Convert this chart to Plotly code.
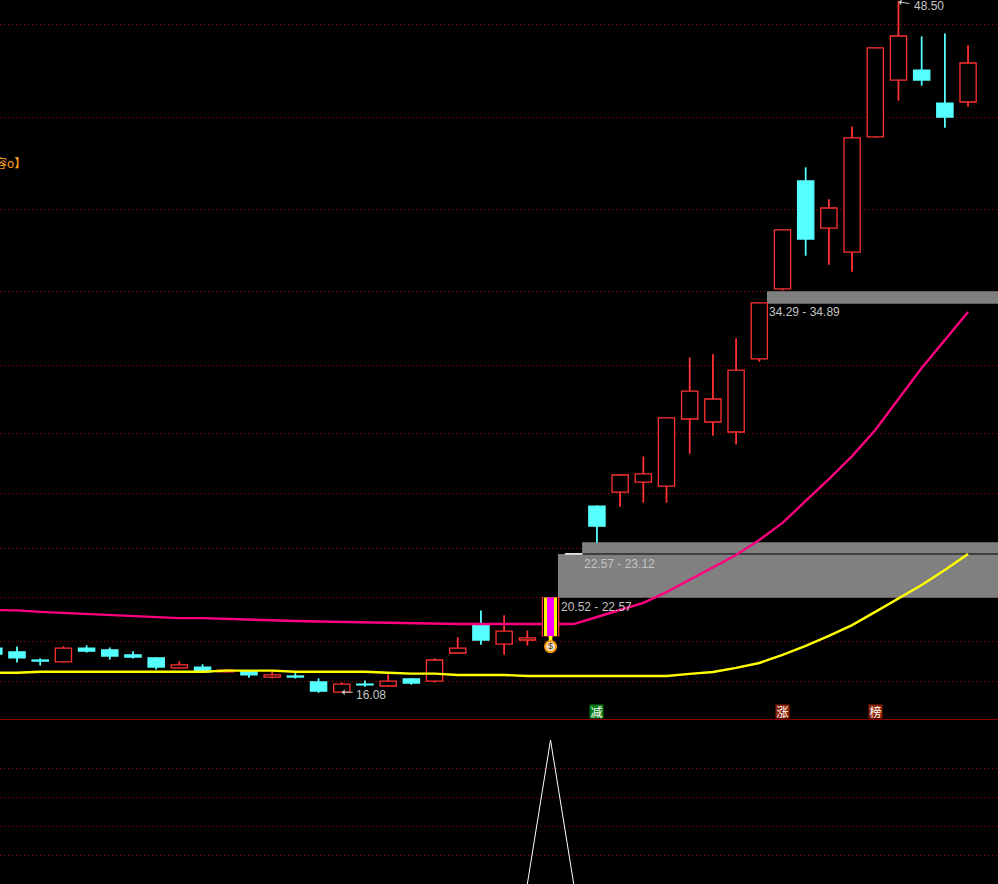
import plotly.graph_objects as go

# Candle slots 0..42, prices
idx = list(range(43))
# slot 24 (highlight candle) and slot 25 (flat white candle) are drawn separately
opens = [18.15,17.97,17.59,17.50,18.15,18.06,17.83,17.69,17.22,17.26,17.03,17.08,16.79,16.84,16.56,16.08,16.46,16.37,16.70,16.60,17.92,19.23,18.34,18.53,None,None,
         24.82,25.48,25.95,25.76,28.91,28.77,28.30,31.73,35.02,40.09,37.88,36.75,42.16,44.83,45.30,43.75,43.80]
highs = [18.20,18.20,17.64,18.20,18.25,18.15,17.97,17.69,17.50,17.36,17.12,17.08,17.03,16.98,16.70,16.51,16.60,16.89,16.70,17.64,18.63,19.89,19.66,18.95,None,None,
         24.82,26.28,27.12,28.96,31.77,31.92,32.67,34.36,37.79,40.70,39.20,42.62,46.34,48.50,46.85,46.99,46.43]
lows = [17.83,17.50,17.36,17.50,17.97,17.64,17.69,17.17,17.22,17.03,17.03,16.79,16.75,16.75,16.08,16.08,16.37,16.37,16.46,16.56,17.92,18.34,17.87,18.30,None,None,
        23.13,24.82,25.01,25.01,27.31,28.16,27.74,31.63,34.97,36.61,36.19,35.86,42.16,43.89,44.60,42.62,43.61]
closes = [17.87,17.69,17.54,18.15,18.01,17.78,17.73,17.26,17.36,17.03,17.12,16.89,16.89,16.79,16.13,16.46,16.42,16.60,16.51,17.59,18.15,18.53,18.95,18.63,None,None,
          23.88,26.28,26.33,28.96,30.22,29.85,31.21,34.36,37.79,37.36,38.82,42.11,46.34,46.90,44.83,43.09,45.63]

signal_slot = [24]
signal_bottom = [18.72]
signal_top = [20.52]
signal_stem = [18.48]
bag_price = [18.22]
flat_slot = [25]
flat_price = [22.57]
flat_height = [0.01]

pink_ma = [19.94,19.92,19.85,19.80,19.75,19.71,19.66,19.61,19.56,19.56,19.52,19.47,19.45,19.42,19.40,19.38,19.35,19.33,19.33,19.28,19.28,19.28,19.28,19.28,19.28,19.28,
           19.61,19.94,20.27,20.78,21.35,21.91,22.52,23.23,24.03,25.06,26.09,27.17,28.39,29.85,31.31,32.62,33.94]
yellow_ma = [16.99,16.99,17.04,17.04,17.04,17.04,17.04,17.04,17.04,17.04,17.09,17.09,17.09,17.04,17.04,17.04,17.04,16.99,16.95,16.95,16.89,16.89,16.89,16.84,16.84,16.84,
             16.84,16.84,16.84,16.84,16.94,17.03,17.22,17.45,17.83,18.25,18.72,19.23,19.85,20.46,21.11,21.82,22.57]

zone_low = [20.52, 22.57, 34.32]
zone_high = [22.57, 23.12, 34.91]
zone_start = [24.32, 25.36, 33.33]
zone_labels = ["20.52 - 22.57", "22.57 - 23.12", "34.29 - 34.89"]
zone_label_x = [24.41, 25.40, 33.38]
zone_label_y = [20.08, 22.10, 33.94]

price_grid = [47.42, 43.09, 38.77, 34.88, 31.40, 28.25, 25.39, 22.85, 20.55, 18.48, 16.60]
osc_grid = [20, 40, 60, 80]
osc_slots = [23, 24, 25]
osc_values = [0, 99.3, 0]

badge_slots = [26, 34, 38]
badge_text = ["减", "涨", "榜"]
badge_colors = ["#0a7d14", "#8c2208", "#8c2208"]
badge_price = 15.17

X_RANGE = [0.267, 43.29]
Y_RANGE = [14.82, 48.59]
RED = "#ff3232"
CYAN = "#55ffff"
GRID = "#a00000"
TXT = "#c4c4c4"
FONT = "Liberation Sans"
BODY_W = 0.7
WICK_W = 0.02
EDGE = 1.3

fig = go.Figure()
valid = [i for i in idx if opens[i] is not None]
up = [i for i in valid if closes[i] >= opens[i]]
down = [i for i in valid if closes[i] < opens[i]]


def add_bar(slots, base, height, width, fill, line):
    fig.add_trace(go.Bar(x=slots, y=height, base=base, width=width, marker=dict(color=fill, line=dict(color=line, width=EDGE)),
                         hoverinfo="skip", showlegend=False))


for group, colour, fill in ((up, RED, "#000000"), (down, CYAN, CYAN)):
    add_bar(group, [lows[i] for i in group], [highs[i] - lows[i] for i in group], WICK_W, colour, colour)
for group, colour, fill in ((up, RED, "#000000"), (down, CYAN, CYAN)):
    add_bar(group, [min(opens[i], closes[i]) for i in group], [abs(closes[i] - opens[i]) for i in group], BODY_W, fill, colour)
# flat candle
add_bar(flat_slot, flat_price, flat_height, BODY_W, "#ffffff", "#ffffff")
# highlight candle outline, stem and stripes
h = [signal_top[0] - signal_bottom[0]]
add_bar(signal_slot, signal_bottom, h, BODY_W, "#000000", RED)
add_bar(signal_slot, signal_stem, [signal_bottom[0] - signal_stem[0]], 0.1, "#ffff00", "#ffff00")

fig.add_trace(go.Scatter(x=idx, y=pink_ma, mode="lines", line=dict(color="#ff0080", width=2.4), hoverinfo="skip", showlegend=False))
fig.add_trace(go.Scatter(x=idx, y=yellow_ma, mode="lines", line=dict(color="#ffff00", width=2.4), hoverinfo="skip", showlegend=False))

s = signal_slot[0]
fig.add_trace(go.Scatter(x=[s, s], y=[signal_bottom[0], signal_top[0]], mode="lines",
                         line=dict(color="#000000", width=15), hoverinfo="skip", showlegend=False))
fig.add_trace(go.Scatter(x=[s, s], y=[signal_bottom[0], signal_top[0]], mode="lines",
                         line=dict(color="#ffff00", width=13), hoverinfo="skip", showlegend=False))
fig.add_trace(go.Scatter(x=[s, s], y=[signal_bottom[0], signal_top[0]], mode="lines",
                         line=dict(color="#ff00ff", width=7), hoverinfo="skip", showlegend=False))
fig.add_trace(go.Scatter(x=signal_slot, y=bag_price, mode="markers+text", text=["$"], textposition="middle center",
                         textfont=dict(color="#5a3a20", size=9, family=FONT),
                         marker=dict(size=11, color="#f4e8d0", line=dict(color="#ff9c00", width=2)),
                         hoverinfo="skip", showlegend=False))
# lower pane
fig.add_trace(go.Scatter(x=osc_slots, y=osc_values, mode="lines", line=dict(color="#ffffff", width=1),
                         xaxis="x2", yaxis="y2", hoverinfo="skip", showlegend=False))

shapes = []
for lo, hi, st in zip(zone_low, zone_high, zone_start):
    shapes.append(dict(type="rect", xref="x", yref="y", x0=st, x1=X_RANGE[1], y0=lo, y1=hi,
                       fillcolor="#808080", line=dict(width=0), layer="between"))
shapes.append(dict(type="line", xref="x", yref="y", x0=zone_start[1], x1=X_RANGE[1], y0=zone_low[1], y1=zone_low[1],
                   line=dict(color="#000000", width=1), layer="between"))

ann = []
for t, x, y in zip(zone_labels, zone_label_x, zone_label_y):
    ann.append(dict(x=x, y=y, xref="x", yref="y", text=t, showarrow=False, xanchor="left", yanchor="middle",
                    font=dict(color=TXT, size=12, family=FONT), borderpad=0))
ann.append(dict(x=15.57, y=15.97, xref="x", yref="y", text="16.08", showarrow=False, xanchor="left", yanchor="middle",
                font=dict(color=TXT, size=12, family=FONT), borderpad=0))
ann.append(dict(x=39.63, y=48.30, xref="x", yref="y", text="48.50", showarrow=False, xanchor="left", yanchor="middle",
                font=dict(color=TXT, size=12, family=FONT), borderpad=0))
ann.append(dict(x=15.0, y=16.08, xref="x", yref="y", text=" ", ax=14, ay=0, axref="pixel", ayref="pixel", showarrow=True,
                arrowhead=1, arrowsize=1, arrowwidth=1, arrowcolor=TXT, standoff=0))
ann.append(dict(x=39.0, y=48.50, xref="x", yref="y", text=" ", ax=14, ay=2, axref="pixel", ayref="pixel", showarrow=True,
                arrowhead=1, arrowsize=1, arrowwidth=1, arrowcolor=TXT, standoff=0))
for sl, t, c in zip(badge_slots, badge_text, badge_colors):
    ann.append(dict(x=sl, y=badge_price, xref="x", yref="y", text=t, showarrow=False, bgcolor=c, width=13, height=13,
                    borderpad=0, font=dict(color="#ffffff", size=12, family="Noto Sans CJK SC")))
ann.append(dict(x=1.43, y=40.98, xref="x", yref="y", text="容o<b>】</b>", showarrow=False, xanchor="right", yanchor="middle",
                font=dict(color="#ff9c1a", size=12, family="Noto Sans CJK SC"), borderpad=0))

axis_common = dict(showticklabels=False, ticks="", zeroline=False, showspikes=False)
fig.update_layout(
    width=998, height=884, autosize=False, margin=dict(l=0, r=0, t=0, b=0),
    paper_bgcolor="#000000", plot_bgcolor="#000000", showlegend=False, barmode="overlay",
    shapes=shapes, annotations=ann, hovermode=False,
    xaxis=dict(range=X_RANGE, domain=[0, 1], anchor="y", showgrid=False, showline=True, linecolor="#8c0000", linewidth=1,
               **axis_common),
    yaxis=dict(range=Y_RANGE, domain=[165 / 884, 1], anchor="x", tickmode="array", tickvals=price_grid, showgrid=True,
               gridcolor=GRID, gridwidth=1, griddash="1px 3px", showline=False, **axis_common),
    xaxis2=dict(range=X_RANGE, domain=[0, 1], anchor="y2", matches="x", showgrid=False, showline=False, **axis_common),
    yaxis2=dict(range=[0, 113.8], domain=[0, 165 / 884], anchor="x2", tickmode="array", tickvals=osc_grid, showgrid=True,
                gridcolor=GRID, gridwidth=1, griddash="1px 3px", showline=False, **axis_common),
)
fig.write_html("out.html", config=dict(displayModeBar=False),
               post_script="document.body.style.margin='0';document.body.style.overflow='hidden';document.body.style.background='#000';")
